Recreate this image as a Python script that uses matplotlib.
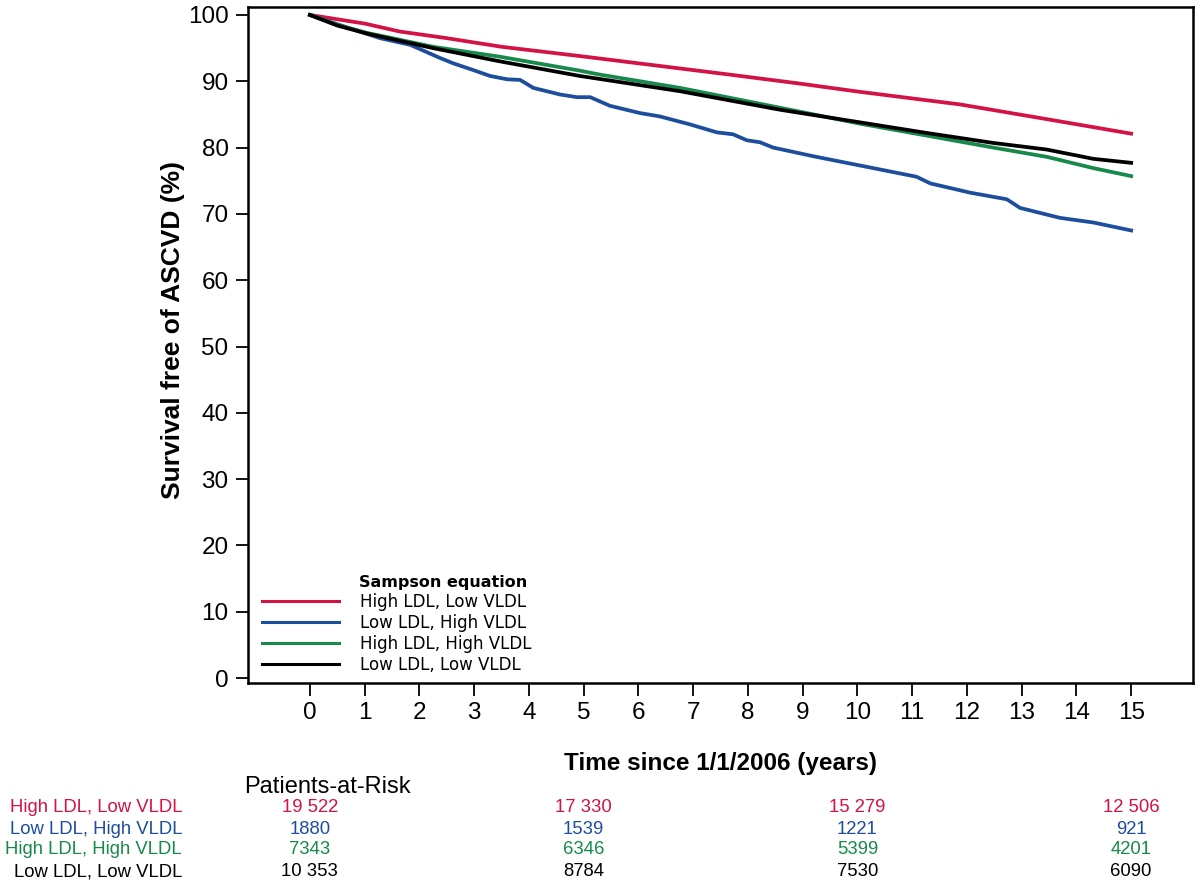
import matplotlib
matplotlib.use("Agg")
import matplotlib.pyplot as plt
from matplotlib.transforms import blended_transform_factory

# Kaplan-Meier curves (years, % free of ASCVD)
red_t = [0, 1.0, 1.64, 2.5, 3.5, 4.93, 6.3, 7.67, 8.9, 10.05, 11.88, 13.52, 15]
red_v = [100, 98.7, 97.5, 96.5, 95.2, 93.8, 92.4, 91.0, 89.7, 88.4, 86.5, 84.2, 82.1]

blue_t = [0, 0.5, 1.28, 1.83, 2.38, 2.62, 2.98, 3.29, 3.6, 3.84, 4.08, 4.57, 4.88,
          5.12, 5.48, 6.03, 6.39, 6.94, 7.43, 7.73, 7.98, 8.22, 8.46, 9.19, 9.8,
          10.29, 11.08, 11.33, 12.06, 12.73, 12.97, 13.7, 14.31, 15]
blue_v = [100, 98.6, 96.5, 95.5, 93.5, 92.7, 91.7, 90.8, 90.3, 90.2, 89.0, 88.0, 87.6,
          87.6, 86.3, 85.2, 84.7, 83.5, 82.3, 82.0, 81.1, 80.8, 80.0, 78.7, 77.7,
          76.9, 75.6, 74.6, 73.2, 72.2, 70.9, 69.4, 68.7, 67.5]

green_t = [0, 0.5, 1.04, 2.25, 3.47, 4.93, 5.3, 6.76, 8.59, 10.05, 11.27, 12.48, 13.46, 14.31, 15]
green_v = [100, 98.5, 97.3, 95.2, 93.7, 91.6, 91.0, 89.0, 86.0, 83.6, 81.8, 80.0, 78.6, 76.9, 75.7]

black_t = [0, 0.5, 1.04, 2.25, 3.47, 4.93, 6.76, 8.59, 10.05, 11.27, 12.48, 13.46, 14.31, 15]
black_v = [100, 98.4, 97.2, 95.0, 93.0, 90.8, 88.5, 85.7, 83.8, 82.2, 80.7, 79.7, 78.3, 77.7]

groups = ['High LDL, Low VLDL', 'Low LDL, High VLDL', 'High LDL, High VLDL', 'Low LDL, Low VLDL']
colors = ['#D31245', '#1D4E9E', '#17894A', '#000000']

risk_years = [0, 5, 10, 15]
risk_red = ['19 522', '17 330', '15 279', '12 506']
risk_blue = ['1880', '1539', '1221', '921']
risk_green = ['7343', '6346', '5399', '4201']
risk_black = ['10 353', '8784', '7530', '6090']

plt.rcParams['font.family'] = ['Liberation Sans', 'DejaVu Sans']
narrow = ['Liberation Sans Narrow', 'Liberation Sans']

fig = plt.figure(figsize=(12, 8.85), dpi=100)
ax = fig.add_axes([0.2067, 0.2282, 0.7875, 0.7639])

curves = [(red_t, red_v), (blue_t, blue_v), (green_t, green_v), (black_t, black_v)]
for (t, v), c, g in zip(curves, colors, groups):
    ax.plot(t, v, color=c, lw=2.7, label=g)

ax.set_xlim(-1.13, 16.13)
ax.set_ylim(-0.75, 101.2)
ax.set_xticks(range(0, 16))
ax.set_yticks(range(0, 101, 10))
ax.tick_params(axis='both', direction='out', length=9, width=1.3, labelsize=17.5, pad=5)
for s in ax.spines.values():
    s.set_linewidth(1.8)

ax.set_xlabel('Time since 1/1/2006 (years)', fontsize=17.5, fontweight='bold', labelpad=20)
ax.set_ylabel('Survival free of ASCVD (%)', fontsize=19, fontweight='bold', labelpad=2)
ax.yaxis.label.set_y(0.522)

leg = ax.legend(handles=[plt.Line2D([], [], color=c, lw=2.2) for c in colors], labels=groups,
                loc='lower left', bbox_to_anchor=(0.0148, 0.014), frameon=False,
                fontsize=12, handlelength=4.6, handletextpad=1.3,
                labelspacing=0.18, borderpad=0, borderaxespad=0)
for txt in leg.get_texts():
    txt.set_family(['DejaVu Sans'])
ax.text(0.206, 0.148, 'Sampson equation', transform=ax.transAxes, fontsize=11.5,
        fontweight='bold', ha='center', va='center', family=['DejaVu Sans'])

# patients-at-risk table
trans = blended_transform_factory(ax.transData, fig.transFigure)
fig.text(244 / 1200, 1 - 787 / 885, 'Patients-at-Risk', fontsize=17, ha='left', va='center',
         family=narrow)
rows = [risk_red, risk_blue, risk_green, risk_black]
row_y = [808, 829, 850, 872]
for vals, c, g, yp in zip(rows, colors, groups, row_y):
    fig.text(182 / 1200, 1 - yp / 885, g, color=c, fontsize=13.3, ha='right', va='center',
             family=narrow)
    for yr, val in zip(risk_years, vals):
        ax.text(yr, 1 - yp / 885, val, color=c, fontsize=13.3, ha='center', va='center',
                transform=trans, family=narrow)

fig.savefig('out.png', dpi=100)
